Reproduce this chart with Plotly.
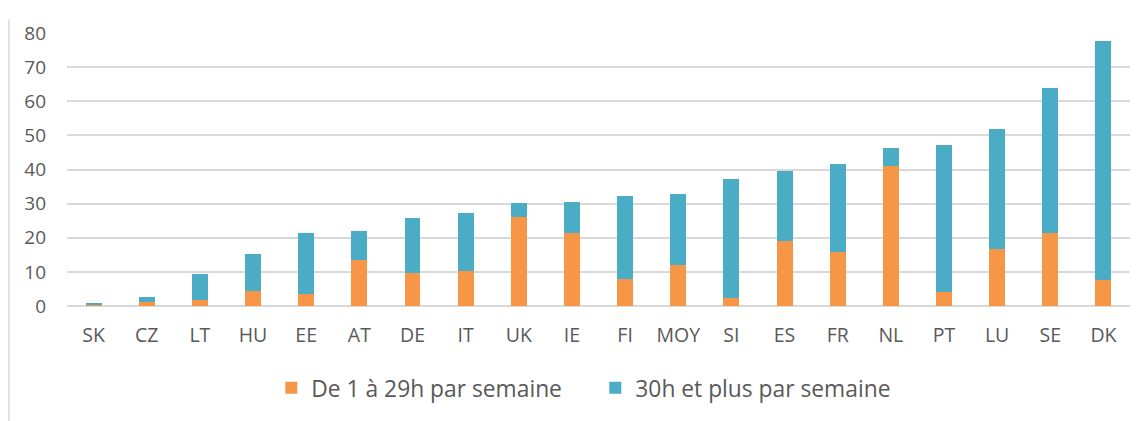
import plotly.graph_objects as go

countries = ["SK", "CZ", "LT", "HU", "EE", "AT", "DE", "IT", "UK", "IE", "FI", "MOY",
             "SI", "ES", "FR", "NL", "PT", "LU", "SE", "DK"]
part_time = [0.2, 1.1, 1.9, 4.4, 3.5, 13.5, 9.7, 10.3, 26.0, 21.5, 7.8, 11.9,
             2.4, 19.0, 15.9, 41.0, 4.1, 16.7, 21.4, 7.5]
totals = [1.0, 2.7, 9.5, 15.3, 21.3, 22.1, 25.8, 27.3, 30.3, 30.4, 32.3, 32.8,
          37.3, 39.7, 41.6, 46.4, 47.2, 51.8, 63.9, 77.7]
full_time = [round(t - p, 1) for t, p in zip(totals, part_time)]

series_names = ["De 1 à 29h par semaine", "30h et plus par semaine"]
colors = ["#F79646", "#4BACC6"]
font_family = "Open Sans, Noto Sans, sans-serif"
text_color = "#595959"

fig = go.Figure()
fig.add_trace(go.Bar(x=countries, y=part_time, name=series_names[0],
                     marker=dict(color=colors[0], line=dict(width=0))))
fig.add_trace(go.Bar(x=countries, y=full_time, name=series_names[1],
                     marker=dict(color=colors[1], line=dict(width=0))))

fig.update_layout(
    barmode="stack",
    bargap=0.7,
    width=1140, height=413,
    margin=dict(l=59, r=18, t=20, b=115),
    paper_bgcolor="white",
    plot_bgcolor="white",
    font=dict(family=font_family, color=text_color, size=18),
    showlegend=True,
    legend=dict(orientation="h", x=0.497, xanchor="center", y=-0.30, yanchor="middle",
                font=dict(size=22.8, color=text_color), traceorder="normal",
                itemwidth=30, entrywidth=279, entrywidthmode="pixels"),
    xaxis=dict(showgrid=False, showline=False, ticks="", tickfont=dict(size=19.5),
               ticklabelstandoff=15),
    yaxis=dict(range=[0, 80], dtick=10, showgrid=True, gridcolor="#D9D9D9", gridwidth=1.5,
               zeroline=True, zerolinecolor="#D9D9D9", zerolinewidth=1.5,
               showline=False, ticks="", tickfont=dict(size=19), ticklabelstandoff=20),
    shapes=[dict(type="line", xref="paper", yref="paper", x0=-0.0546, x1=-0.0546,
                 y0=1.05, y1=-0.45, line=dict(color="#D9D9D9", width=1.5))],
)

fig.write_html("out.html")
